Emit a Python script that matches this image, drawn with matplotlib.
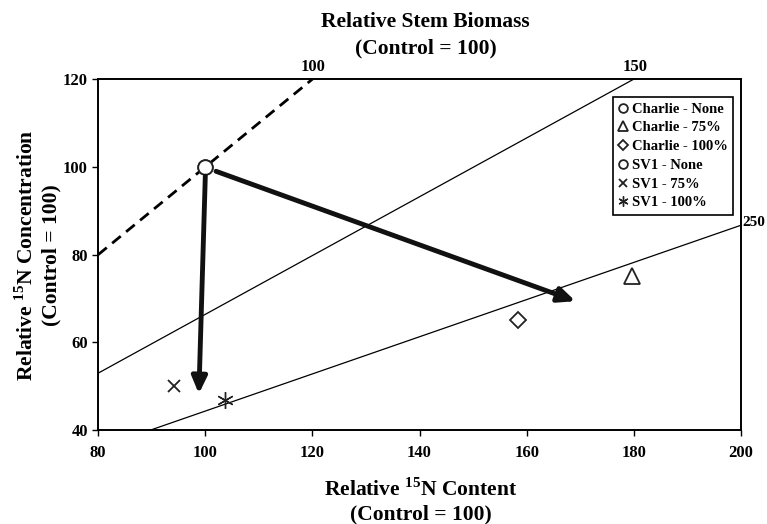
import matplotlib
matplotlib.use("Agg")
from matplotlib import pyplot as plt

plt.rcParams['font.family'] = ['Liberation Serif', 'DejaVu Serif']
plt.rcParams['font.weight'] = 'bold'
plt.rcParams['mathtext.fontset'] = 'custom'
plt.rcParams['mathtext.rm'] = 'Liberation Serif:bold'

# treatment points (relative 15N content, relative 15N concentration)
series_names = ['Charlie - None', 'Charlie - 75%', 'Charlie - 100%',
                'SV1 - None', 'SV1 - 75%', 'SV1 - 100%']
content = [100, 179.7, 158.4, 100, 94.2, 103.6]
concentration = [100, 75.2, 65.0, 100, 50.1, 46.8]
markers = ['o', '^', 'D', 'o', 'x', (6, 2, 0)]
sizes = [10.5, 11, 8, 10.5, 9, 12]

# stem biomass isolines (endpoints) and labels
iso_labels = ['100', '150', '250']
iso_x = [[80, 120], [80, 180], [89.7, 200]]
iso_y = [[80, 120], [53.0, 120], [40, 86.7]]

# arrows: start -> end
arrow_start = [(100, 97.9), (102, 99.0)]
arrow_end = [(98.8, 48.3), (169.1, 69.4)]

fig = plt.figure(figsize=(7.67, 5.24), dpi=100)
ax = fig.add_axes([0.128, 0.179, 0.838, 0.670])

ax.plot(iso_x[0], iso_y[0], 'k--', lw=2, dashes=(4, 2.5))
ax.plot(iso_x[1], iso_y[1], 'k-', lw=0.9)
ax.plot(iso_x[2], iso_y[2], 'k-', lw=0.9)
ax.text(120.2, 121, iso_labels[0], ha='center', va='bottom', fontsize=12)
ax.text(180.3, 121, iso_labels[1], ha='center', va='bottom', fontsize=12)
ax.text(200.2, iso_y[2][1] + 0.7, iso_labels[2], ha='left', va='center',
        fontsize=11, clip_on=False)

for s, e in zip(arrow_start, arrow_end):
    ax.annotate('', xy=e, xytext=s,
                arrowprops=dict(arrowstyle='-|>,head_length=1.0,head_width=0.45',
                                lw=3.5, color='#111111', shrinkA=0, shrinkB=0))

for i, name in enumerate(series_names):
    ax.plot(content[i], concentration[i], linestyle='none', marker=markers[i],
            ms=sizes[i], mfc='white', mec='#222222',
            mew=1.0 if i == 5 else 1.3, label=name)

ax.set_xlim(80, 200)
ax.set_ylim(40, 120)
ax.set_xticks(range(80, 201, 20))
ax.set_yticks(range(40, 121, 20))
ax.tick_params(labelsize=12, length=4, width=1)
ax.tick_params(axis='x', pad=7)
for sp in ax.spines.values():
    sp.set_linewidth(1.4)

leg = ax.legend(loc='upper right', bbox_to_anchor=(0.988, 0.95), fontsize=10.5,
                markerscale=0.6, handlelength=0.6, handletextpad=0.3,
                labelspacing=0.38, borderpad=0.4, borderaxespad=0,
                fancybox=False, edgecolor='black', framealpha=1)
leg.get_frame().set_linewidth(1.2)

fig.text(0.555, 0.978, 'Relative Stem Biomass\n(Control = 100)', ha='center',
         va='top', fontsize=15.5, linespacing=1.45)
fig.text(0.549, 0.088, 'Relative $^{15}$N Content\n(Control = 100)', ha='center',
         va='top', fontsize=15.5, linespacing=1.25)
fig.text(0.05, 0.513, 'Relative $^{15}$N Concentration\n(Control = 100)',
         ha='center', va='center', rotation=90, fontsize=15.5, linespacing=1.3)

fig.savefig('out.png', dpi=100)
